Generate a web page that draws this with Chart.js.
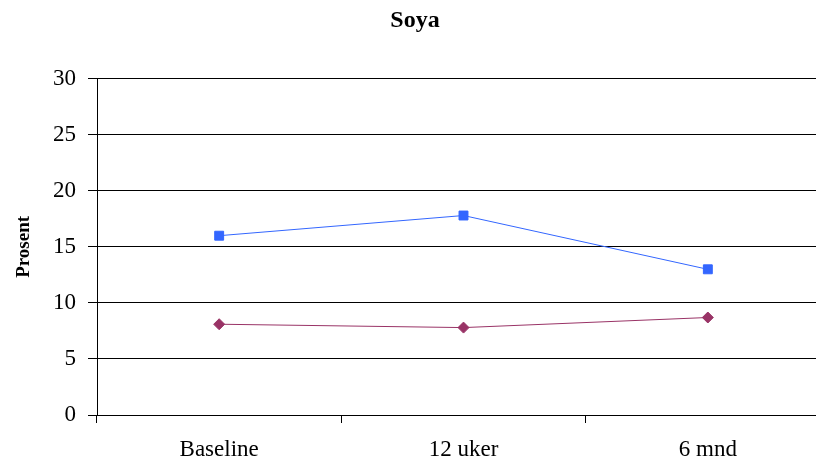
<!DOCTYPE html>
<html>
<head>
<meta charset="utf-8">
<script src="https://cdn.jsdelivr.net/npm/chart.js@4/dist/chart.umd.min.js"></script>
<style>
  html, body { margin: 0; padding: 0; background: #fff; overflow: hidden; }
</style>
</head>
<body>
<canvas id="chart" width="832" height="463"></canvas>
<script>
// data
const categories = ['Baseline', '12 uker', '6 mnd'];
const blueSeries = [16.0, 17.8, 13.0];
const purpleSeries = [8.1, 7.8, 8.7];
const yTicks = [0, 5, 10, 15, 20, 25, 30];

const serif = '"Liberation Serif", "Times New Roman", serif';

new Chart(document.getElementById('chart'), {
  type: 'line',
  data: {
    labels: categories,
    datasets: [
      {
        label: 'Serie 1',
        data: blueSeries,
        borderColor: '#3366FF',
        backgroundColor: '#3366FF',
        borderWidth: 1,
        pointStyle: 'rect',
        pointRadius: 6.3,
        pointBorderWidth: 1,
        tension: 0,
      },
      {
        label: 'Serie 2',
        data: purpleSeries,
        borderColor: '#993366',
        backgroundColor: '#993366',
        borderWidth: 1,
        pointStyle: 'rectRot',
        pointRadius: 5.5,
        pointBorderWidth: 1,
        tension: 0,
      },
    ],
  },
  options: {
    responsive: false,
    animation: false,
    layout: { autoPadding: false, padding: { left: 0, right: 2, top: 0, bottom: 0 } },
    plugins: {
      legend: { display: false },
      tooltip: { enabled: false },
      title: {
        display: true,
        text: 'Soya',
        color: '#000',
        font: { family: serif, size: 24, weight: 'bold' },
        padding: { top: 6, bottom: 44 },
      },
    },
    scales: {
      x: {
        offset: true,
        grid: {
          offset: true,
          drawOnChartArea: false,
          drawTicks: true,
          tickLength: 8,
          color: '#000',
        },
        border: { display: true, color: '#000', width: 1 },
        ticks: {
          color: '#000',
          font: { family: serif, size: 23 },
          padding: 13,
          maxRotation: 0,
        },
        afterFit: (scale) => { scale.height = 48; },
      },
      y: {
        min: 0,
        max: 30,
        afterBuildTicks: (scale) => { scale.ticks = yTicks.map(v => ({ value: v })); },
        grid: {
          color: '#000',
          drawTicks: true,
          tickLength: 9,
        },
        border: { display: true, color: '#000', width: 1 },
        ticks: {
          color: '#000',
          font: { family: serif, size: 23 },
          padding: 12,
        },
        title: {
          display: true,
          text: 'Prosent',
          color: '#000',
          font: { family: serif, size: 19, weight: 'bold' },
          padding: { top: 13, bottom: 0 },
        },
        afterFit: (scale) => { scale.width = 97; },
      },
    },
  },
});
</script>
</body>
</html>
